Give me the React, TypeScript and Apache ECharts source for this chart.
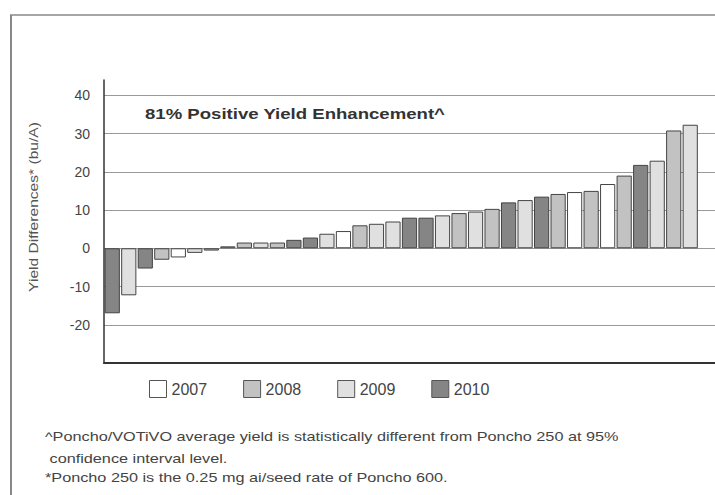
import React, { useEffect, useRef } from "react";
import * as echarts from "echarts";

const categories = [
  "1", "2", "3", "4", "5", "6", "7", "8", "9", "10", "11", "12",
  "13", "14", "15", "16", "17", "18", "19", "20", "21", "22", "23", "24",
  "25", "26", "27", "28", "29", "30", "31", "32", "33", "34", "35", "36",
];

const values = [
  -17.0, -12.3, -5.3, -3.0, -2.4, -1.2, -0.6, 0.5, 1.5, 1.5, 1.5, 2.2,
  2.8, 3.8, 4.5, 6.0, 6.4, 7.0, 8.0, 8.0, 8.6, 9.2, 9.6, 10.3,
  12.0, 12.6, 13.5, 14.2, 14.7, 15.0, 16.8, 19.0, 21.8, 22.9, 30.8, 32.3,
];

const years = [
  "2010", "2009", "2010", "2008", "2007", "2009", "2008", "2008", "2008", "2009", "2008", "2010",
  "2010", "2009", "2007", "2008", "2009", "2009", "2010", "2010", "2009", "2008", "2009", "2008",
  "2010", "2009", "2010", "2008", "2007", "2008", "2007", "2008", "2010", "2009", "2008", "2009",
];

const seriesNames = ["2007", "2008", "2009", "2010"];
const seriesColors = ["#ffffff", "#c2c2c2", "#e0e0e0", "#858585"];

const yTicks = { min: -30, max: 44, interval: 10 };

const title = "81% Positive Yield Enhancement^";
const yName = "Yield Differences* (bu/A)";
const notes = [
  "^Poncho/VOTiVO average yield is statistically different from Poncho 250 at 95%",
  " confidence interval level.",
  "*Poncho 250 is the 0.25 mg ai/seed rate of Poncho 600.",
];

export default function App() {
  const ref = useRef<HTMLDivElement>(null);
  useEffect(() => {
    if (!ref.current) return;
    const chart = echarts.init(ref.current, null, { renderer: "svg" });
    const font = "Liberation Sans, Arial, sans-serif";
    const series = seriesNames.map((name, k) => ({
      name,
      type: "bar",
      barGap: "-100%",
      barCategoryGap: "8%",
      data: values.map((v, i) => (years[i] === name ? v : null)),
      itemStyle: { color: seriesColors[k], borderColor: "#444", borderWidth: 1 },
      z: 3,
    }));
    chart.setOption({
      animation: false,
      backgroundColor: "#ffffff",
      grid: { left: 104, right: -5, top: 80, bottom: 132, containLabel: false },
      legend: {
        left: 144,
        top: 375,
        itemWidth: 17,
        itemHeight: 17,
        itemGap: 36,
        icon: "rect",
        itemStyle: { borderColor: "#555", borderWidth: 1 },
        textStyle: { fontFamily: font, fontSize: 16, color: "#444" },
        data: seriesNames,
      },
      xAxis: {
        type: "category",
        data: categories,
        max: categories.length,
        axisLine: { onZero: false, lineStyle: { color: "#333", width: 2 } },
        axisTick: { show: false },
        axisLabel: { show: false },
        splitLine: { show: false },
      },
      yAxis: {
        type: "value",
        min: yTicks.min,
        max: yTicks.max,
        interval: yTicks.interval,
        axisLine: { show: true, lineStyle: { color: "#333", width: 1.5 } },
        axisTick: { show: false },
        axisLabel: {
          showMaxLabel: false,
          showMinLabel: false,
          margin: 14,
          fontFamily: font,
          fontSize: 14,
          color: "#444",
        },
        splitLine: {
          show: true,
          showMaxLine: false,
          showMinLine: false,
          lineStyle: { color: "#999", width: 1 },
        },
      },
      graphic: [
        { type: "line", shape: { x1: 10, y1: 15, x2: 715, y2: 15 }, style: { stroke: "#888", lineWidth: 1.5 } },
        { type: "line", shape: { x1: 11, y1: 15, x2: 11, y2: 495 }, style: { stroke: "#888", lineWidth: 2 } },
        {
          type: "text",
          x: 145,
          y: 114,
          scaleX: 1.24,
          style: { text: title, font: `bold 15px ${font}`, fill: "#333", verticalAlign: "middle" },
        },
        {
          type: "text",
          x: 33,
          y: 207,
          rotation: Math.PI / 2,
          scaleX: 1.2,
          style: { text: yName, font: `13px ${font}`, fill: "#555", align: "center", verticalAlign: "middle" },
        },
        {
          type: "text",
          x: 45,
          y: 437,
          scaleX: 1.25,
          style: { text: notes[0], font: `13px ${font}`, fill: "#444", verticalAlign: "middle" },
        },
        {
          type: "text",
          x: 45,
          y: 459,
          scaleX: 1.25,
          style: { text: notes[1], font: `13px ${font}`, fill: "#444", verticalAlign: "middle" },
        },
        {
          type: "text",
          x: 45,
          y: 478,
          scaleX: 1.25,
          style: { text: notes[2], font: `13px ${font}`, fill: "#444", verticalAlign: "middle" },
        },
      ],
      series,
    });
    return () => chart.dispose();
  }, []);
  return <div ref={ref} style={{ position: "fixed", left: 0, top: 0, width: 715, height: 495 }} />;
}
